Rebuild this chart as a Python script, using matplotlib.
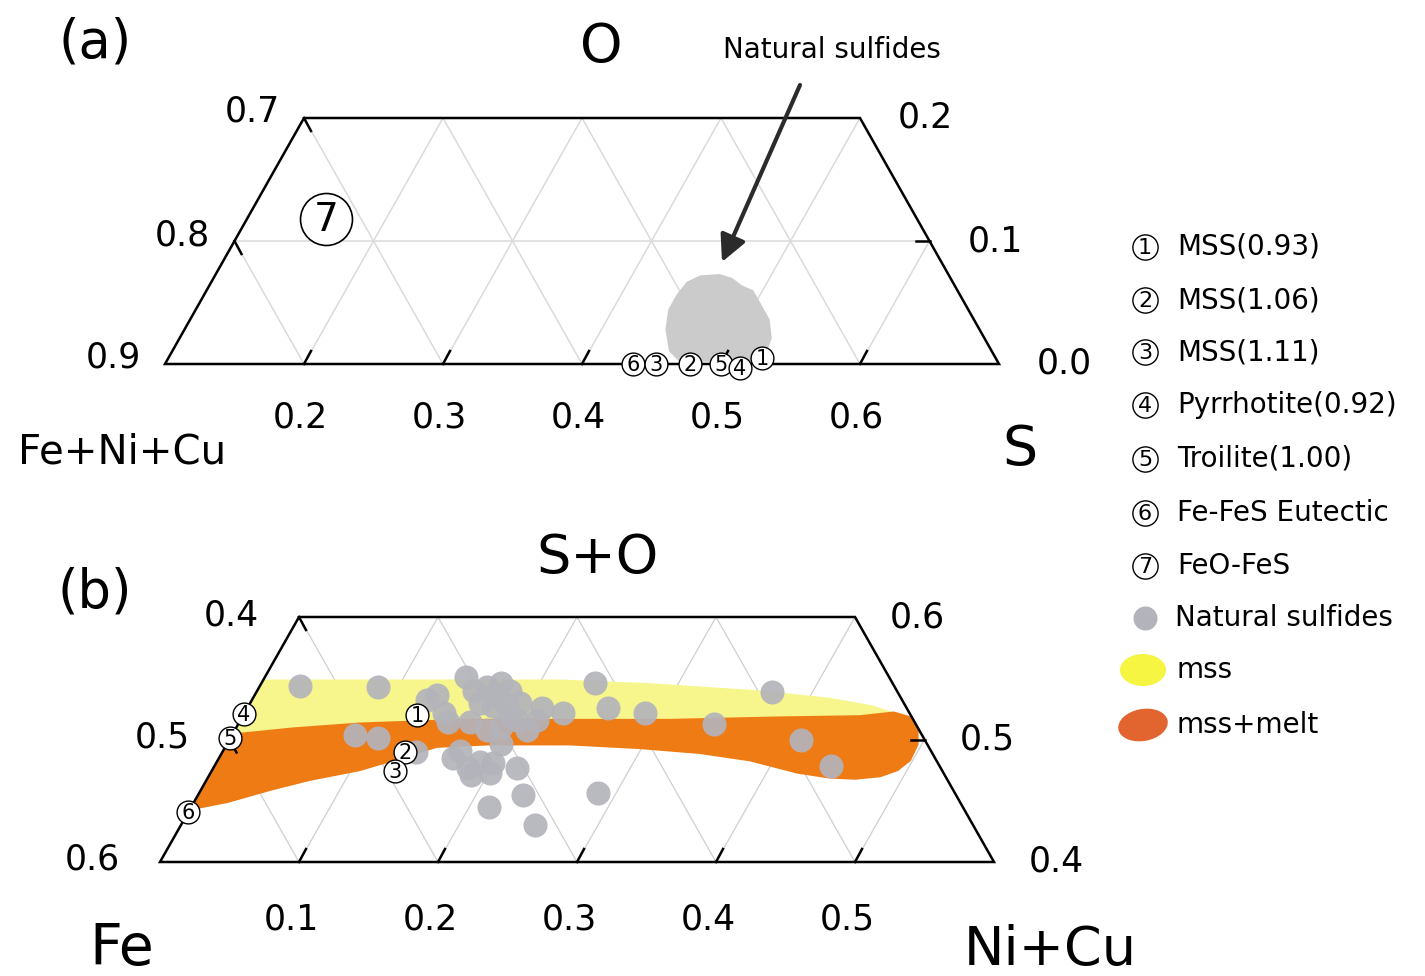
import matplotlib.pyplot as plt
from matplotlib.patches import Polygon, Ellipse

plt.rcParams['font.family'] = ['DejaVu Sans']

# ---- panel (a): Fe+Ni+Cu / S / O, points given as (S, O) ----
a_num = ['1', '2', '3', '4', '5', '6']
a_S = [0.527, 0.478, 0.453, 0.515, 0.500, 0.437]
a_O = [0.005, 0.0, 0.0, -0.003, 0.0, 0.0]
feo_fes_S, feo_fes_O = 0.157, 0.118
# outline of the natural sulfide field
blob_S = [0.443, 0.450, 0.463, 0.473, 0.483, 0.493, 0.504, 0.516, 0.525, 0.527,
          0.524, 0.469, 0.458, 0.447, 0.441, 0.441]
blob_O = [0.066, 0.071, 0.072, 0.069, 0.063, 0.059, 0.048, 0.036, 0.021, 0.010,
          0.003, 0.003, 0.011, 0.028, 0.044, 0.056]

# ---- panel (b): Fe / Ni+Cu / S+O, points given as (Ni+Cu, S+O) ----
b_num = ['1', '2', '3', '4', '5', '6']
b_N = [0.125, 0.131, 0.132, 0.0, 0.0, 0.0]
b_SO = [0.520, 0.490, 0.474, 0.521, 0.501, 0.441]

nat_N = [0.029, 0.085, 0.145, 0.240, 0.371, 0.131, 0.126, 0.143, 0.150, 0.164,
         0.172, 0.182, 0.165, 0.176, 0.186, 0.194, 0.199, 0.190, 0.181, 0.166,
         0.210, 0.213, 0.212, 0.229, 0.259, 0.288, 0.342, 0.411, 0.444, 0.088,
         0.106, 0.139, 0.168, 0.183, 0.189, 0.201, 0.188, 0.199, 0.218, 0.234,
         0.214, 0.255, 0.287, 0.173, 0.192, 0.156, 0.170, 0.197]
nat_SO = [0.544, 0.543, 0.551, 0.546, 0.539, 0.536, 0.532, 0.522, 0.514, 0.543,
          0.546, 0.540, 0.530, 0.527, 0.527, 0.530, 0.516, 0.510, 0.508, 0.514,
          0.508, 0.516, 0.526, 0.522, 0.526, 0.522, 0.513, 0.500, 0.478, 0.504,
          0.501, 0.490, 0.485, 0.477, 0.482, 0.473, 0.471, 0.481, 0.477, 0.455,
          0.445, 0.430, 0.456, 0.536, 0.520, 0.540, 0.491, 0.496]

mss_N = [0.0, 0.120, 0.213, 0.279, 0.362, 0.415, 0.448, 0.467,
         0.444, 0.387, 0.309, 0.230, 0.158, 0.087, 0.041, 0.0]
mss_SO = [0.549, 0.549, 0.549, 0.546, 0.540, 0.534, 0.528, 0.522,
          0.519, 0.518, 0.516, 0.516, 0.516, 0.513, 0.509, 0.504]

melt_N = [0.0, 0.041, 0.087, 0.158, 0.230, 0.309, 0.387, 0.444, 0.467, 0.481,
          0.491, 0.497, 0.498, 0.493, 0.483, 0.466, 0.447, 0.422, 0.383, 0.344,
          0.299, 0.247, 0.188, 0.152, 0.126, 0.106, 0.074, 0.050, 0.024, 0.0]
melt_SO = [0.504, 0.509, 0.513, 0.516, 0.516, 0.516, 0.518, 0.519, 0.522, 0.518,
           0.508, 0.496, 0.483, 0.475, 0.470, 0.468, 0.469, 0.473, 0.483, 0.489,
           0.493, 0.496, 0.496, 0.494, 0.483, 0.475, 0.467, 0.459, 0.449, 0.443]

legend_names = ['MSS(0.93)', 'MSS(1.06)', 'MSS(1.11)', 'Pyrrhotite(0.92)',
                'Troilite(1.00)', 'Fe-FeS Eutectic', 'FeO-FeS']

YELLOW = '#f6f68c'
ORANGE = '#ef7b14'
DOT = '#b3b3bb'


def tern_a(S, O):
    # S along the bottom, O upward; corner (S=0.1, O=0) sits at pixel (165, 364)
    return 165 + (S - 0.1 + O / 2) * 1390, 364 - O * 1230


def tern_b(N, SO):
    # Ni+Cu along the bottom, S+O upward; corner (0, 0.4) sits at pixel (160, 862)
    return 160 + (N + (SO - 0.4) / 2) * 1390, 862 - (SO - 0.4) * 1225


def to_xy(fn, u, v):
    pts = [fn(a, b) for a, b in zip(u, v)]
    return [p[0] for p in pts], [p[1] for p in pts]


fig = plt.figure(figsize=(14.25, 9.76), dpi=100)
ax = fig.add_axes([0, 0, 1, 1])
ax.set_xlim(0, 1425)
ax.set_ylim(976, 0)
ax.axis('off')

# ---------------- panel (a) ----------------
trap_a = [tern_a(0.1, 0), tern_a(0.7, 0), tern_a(0.5, 0.2), tern_a(0.1, 0.2)]
clip_a = Polygon(trap_a, closed=True, fill=False, lw=0)
ax.add_patch(clip_a)
grid_a = []
for s in [0.2, 0.3, 0.4, 0.5, 0.6]:
    grid_a.append([tern_a(s, 0), tern_a(s, 0.2)])
for f in [0.4, 0.5, 0.6, 0.7, 0.8]:
    grid_a.append([tern_a(1 - f, 0), tern_a(0.8 - f, 0.2)])
grid_a.append([tern_a(0.1, 0.1), tern_a(0.6, 0.1)])
for seg in grid_a:
    ln, = ax.plot([seg[0][0], seg[1][0]], [seg[0][1], seg[1][1]], color='#dadada', lw=1.1, zorder=1)
    ln.set_clip_path(clip_a)

bx, by = to_xy(tern_a, blob_S, blob_O)
ax.add_patch(Polygon(list(zip(bx, by)), closed=True, fc='#cbcbcb', ec='#cbcbcb', lw=2, zorder=2))
ax.add_patch(Polygon(trap_a, closed=True, fill=False, ec='black', lw=1.8, zorder=3))

# ticks
for s in [0.2, 0.3, 0.4, 0.5, 0.6]:
    x, y = tern_a(s, 0)
    ax.plot([x, x + 7], [y, y - 13], color='black', lw=1.8, zorder=3)
    ax.text(x - 4, 418, f'{s:.1f}', ha='center', va='center', fontsize=25)
for o, lab in zip([0, 0.1, 0.2], ['0.9', '0.8', '0.7']):
    x, y = tern_a(0.1, o)
    if o > 0:
        ax.plot([x, x + 7], [y, y + 13], color='black', lw=1.8, zorder=3)
    ax.text(x - 24, y - 6, lab, ha='right', va='center', fontsize=25)
for o, lab in zip([0, 0.1, 0.2], ['0.0', '0.1', '0.2']):
    x, y = tern_a(0.7 - o, o)
    if 0 < o < 0.2:
        ax.plot([x, x - 14], [y, y], color='black', lw=1.8, zorder=3)
    ax.text(x + 38, y, lab, ha='left', va='center', fontsize=25)

order = [5, 2, 1, 4, 3, 0]
for i in order:
    x, y = tern_a(a_S[i], a_O[i])
    ax.scatter(x, y, s=270, fc='white', ec='black', lw=1, zorder=5)
    ax.text(x, y + 1, a_num[i], ha='center', va='center', fontsize=15, zorder=6)
x, y = tern_a(feo_fes_S, feo_fes_O)
ax.scatter(x, y, s=1400, fc='white', ec='black', lw=1.2, zorder=5)
ax.text(x, y + 1, '7', ha='center', va='center', fontsize=28, zorder=6)

ax.annotate('', xy=(722, 262), xytext=(800, 85),
            arrowprops=dict(arrowstyle='-|>', lw=3, color='#2b2b2b', mutation_scale=40,
                            shrinkA=0, shrinkB=0))
ax.text(832, 50, 'Natural sulfides', ha='center', va='center', fontsize=20)
ax.text(95, 42, '(a)', ha='center', va='center', fontsize=38)
ax.text(601, 47, 'O', ha='center', va='center', fontsize=39)
ax.text(122, 453, 'Fe+Ni+Cu', ha='center', va='center', fontsize=29)
ax.text(1020, 450, 'S', ha='center', va='center', fontsize=40)

# ---------------- panel (b) ----------------
trap_b = [tern_b(0, 0.4), tern_b(0.6, 0.4), tern_b(0.4, 0.6), tern_b(0, 0.6)]
clip_b = Polygon(trap_b, closed=True, fill=False, lw=0)
ax.add_patch(clip_b)
grid_b = []
for n in [0.1, 0.2, 0.3, 0.4, 0.5]:
    grid_b.append([tern_b(n, 0.4), tern_b(n, 0.6)])
for fe in [0.1, 0.2, 0.3, 0.4, 0.5]:
    grid_b.append([tern_b(0.6 - fe, 0.4), tern_b(0.4 - fe, 0.6)])
grid_b.append([tern_b(0, 0.5), tern_b(0.5, 0.5)])
for seg in grid_b:
    ln, = ax.plot([seg[0][0], seg[1][0]], [seg[0][1], seg[1][1]], color='#cfcfcf', lw=0.9, zorder=1)
    ln.set_clip_path(clip_b)

yx, yy = to_xy(tern_b, mss_N, mss_SO)
p = Polygon(list(zip(yx, yy)), closed=True, fc=YELLOW, ec='none', zorder=2)
ax.add_patch(p)
p.set_clip_path(clip_b)
ox, oy = to_xy(tern_b, melt_N, melt_SO)
p = Polygon(list(zip(ox, oy)), closed=True, fc=ORANGE, ec=ORANGE, lw=1.5, joinstyle='round', zorder=2)
ax.add_patch(p)
p.set_clip_path(clip_b)

nx, ny = to_xy(tern_b, nat_N, nat_SO)
ax.scatter(nx, ny, s=300, color=DOT, alpha=0.92, lw=0, zorder=3)
ax.add_patch(Polygon(trap_b, closed=True, fill=False, ec='black', lw=1.8, zorder=4))

for n in [0.1, 0.2, 0.3, 0.4, 0.5]:
    x, y = tern_b(n, 0.4)
    ax.plot([x, x + 7], [y, y - 13], color='black', lw=1.8, zorder=4)
    ax.text(x - 8, 920, f'{n:.1f}', ha='center', va='center', fontsize=25)
for so, lab in zip([0.4, 0.5, 0.6], ['0.6', '0.5', '0.4']):
    x, y = tern_b(0, so)
    if so > 0.4:
        ax.plot([x, x + 7], [y, y + 13], color='black', lw=1.8, zorder=4)
    ax.text(x - 40, y - 2, lab, ha='right', va='center', fontsize=25)
for so, lab in zip([0.4, 0.5, 0.6], ['0.4', '0.5', '0.6']):
    x, y = tern_b(1 - so, so)
    if so == 0.5:
        ax.plot([x, x - 14], [y, y], color='black', lw=1.8, zorder=4)
    ax.text(x + 35, y, lab, ha='left', va='center', fontsize=25)

for i in range(len(b_num)):
    x, y = tern_b(b_N[i], b_SO[i])
    ax.scatter(x, y, s=270, fc='white', ec='black', lw=1, zorder=5)
    ax.text(x, y + 1, b_num[i], ha='center', va='center', fontsize=15, zorder=6)

ax.text(95, 593, '(b)', ha='center', va='center', fontsize=38)
ax.text(598, 558, 'S+O', ha='center', va='center', fontsize=39)
ax.text(122, 950, 'Fe', ha='center', va='center', fontsize=41)
ax.text(1050, 950, 'Ni+Cu', ha='center', va='center', fontsize=39)

# ---------------- legend ----------------
leg_y = [247, 300, 352, 405, 459, 513, 566]
for k, (name, y) in enumerate(zip(legend_names, leg_y)):
    ax.scatter(1145, y, s=330, fc='white', ec='black', lw=1, zorder=5)
    ax.text(1145, y + 1, str(k + 1), ha='center', va='center', fontsize=16, zorder=6)
    ax.text(1177, y, name, ha='left', va='center', fontsize=20)
ax.scatter(1145, 618, s=300, color=DOT, lw=0)
ax.text(1175, 618, 'Natural sulfides', ha='left', va='center', fontsize=20)
ax.add_patch(Ellipse((1143, 670), 46, 32, fc='#f5f542', ec='none'))
ax.text(1177, 670, 'mss', ha='left', va='center', fontsize=20)
ax.add_patch(Ellipse((1143, 725), 50, 32, angle=-10, fc='#e2642e', ec='none'))
ax.text(1177, 725, 'mss+melt', ha='left', va='center', fontsize=20)

fig.savefig('out.png', dpi=100)
